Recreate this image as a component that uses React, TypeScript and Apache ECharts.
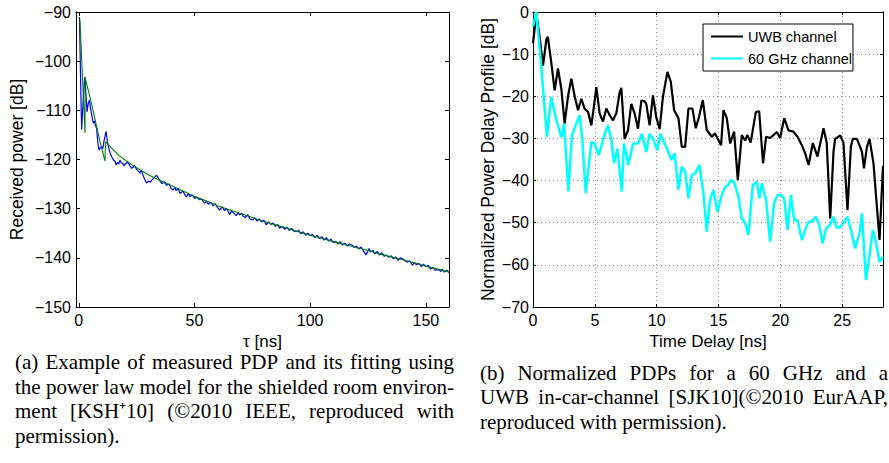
import React, { useEffect, useRef } from "react";
import * as echarts from "echarts";

// ---------- Left panel (a) data ----------
const tauTicks = [0, 50, 100, 150];

// measured PDP [tau ns, dB]
const measuredPdp: [number, number][] = [
  [0.3, -91.0], [0.7, -101.5], [1.0, -109.0], [1.25, -113.9], [1.6, -110.5], [2.0, -107.0],
  [2.4, -104.2], [2.7, -103.2], [3.1, -106.8], [3.6, -110.3], [4.1, -108.6], [4.6, -107.9],
  [5.1, -109.6], [5.6, -111.0], [6.3, -112.6], [6.8, -112.2], [7.3, -113.2], [7.7, -113.6],
  [8.2, -116.4], [8.75, -118.1], [9.3, -117.6], [9.9, -117.4], [10.4, -117.8], [11.0, -116.0],
  [11.8, -114.3], [12.3, -116.2], [12.8, -117.4], [13.5, -118.6], [14.2, -119.4], [15.0, -120.1],
  [15.7, -120.4], [16.1, -121.1], [16.8, -120.6], [17.3, -120.9], [17.8, -120.1], [18.4, -120.7],
  [19.0, -120.8], [19.6, -121.3], [20.0, -120.9], [20.7, -120.8], [21.0, -120.4], [22.0, -121.2],
  [22.8, -121.8], [23.5, -121.6], [24.0, -121.2], [25.0, -122.0], [26.0, -122.5], [26.4, -122.8],
  [27.0, -122.2], [28.0, -123.5], [29.3, -124.8], [30.0, -124.4], [31.0, -124.6], [31.5, -124.2],
  [32.2, -123.9], [33.0, -123.5], [33.6, -123.2], [34.2, -123.6], [35.0, -124.3], [36.0, -124.9],
  [37.0, -124.6], [37.9, -125.2], [39.0, -125.0], [40.0, -125.9], [40.8, -126.2], [41.5, -125.7],
  [42.0, -126.3], [43.0, -125.9], [43.7, -126.9], [44.5, -126.6], [45.0, -126.4], [46.0, -127.3],
  [46.6, -127.6], [47.3, -126.9], [48.0, -127.5], [49.0, -127.2], [50.1, -127.9], [51.0, -127.7],
  [52.3, -128.2], [53.0, -128.0], [54.4, -128.9], [55.0, -128.5], [56.0, -129.1], [57.0, -128.7],
  [58.0, -129.4], [59.0, -129.0], [60.0, -129.8], [60.9, -130.3], [62.0, -129.6], [63.0, -130.4],
  [64.0, -130.0], [65.2, -131.2], [66.0, -130.5], [67.0, -130.9], [68.0, -131.4], [69.0, -130.8],
  [69.5, -131.3], [70.5, -131.0], [71.0, -131.5], [72.0, -131.8], [73.0, -131.2], [74.0, -132.1],
  [75.3, -132.3], [76.0, -131.8], [77.0, -132.5], [78.0, -132.1], [79.0, -132.7], [80.0, -132.3],
  [81.0, -133.3], [82.0, -132.7], [83.0, -133.2], [84.0, -132.9], [85.0, -133.6], [86.0, -133.2],
  [86.8, -134.0], [88.0, -133.6], [89.0, -134.2], [90.0, -133.8], [91.0, -134.4], [92.0, -134.0],
  [93.0, -134.6], [94.0, -134.7], [95.0, -134.4], [96.0, -135.1], [97.0, -134.7], [98.0, -135.4],
  [99.0, -135.0], [100.0, -135.5], [101.0, -135.2], [102.0, -135.9], [103.0, -135.4], [104.0, -136.1],
  [105.0, -135.7], [106.0, -136.4], [107.0, -135.9], [108.0, -136.6], [109.0, -136.2], [110.0, -136.9],
  [111.2, -136.7], [112.0, -137.2], [113.0, -136.7], [114.0, -137.4], [115.0, -137.0], [116.0, -137.6],
  [117.0, -137.2], [118.4, -137.5], [119.0, -137.9], [120.0, -137.6], [121.0, -138.2], [122.0, -137.8],
  [123.0, -138.6], [124.1, -139.4], [125.5, -138.1], [126.0, -138.8], [127.0, -138.5], [128.0, -139.2],
  [129.0, -138.7], [130.0, -139.4], [131.0, -139.0], [132.0, -139.7], [132.8, -139.4], [134.0, -139.9],
  [135.0, -139.6], [136.0, -140.2], [137.0, -139.8], [138.0, -140.5], [139.0, -140.0], [139.9, -140.2],
  [141.0, -140.6], [142.0, -140.9], [143.0, -140.6], [144.2, -141.5], [145.0, -141.0], [146.0, -141.4],
  [147.0, -141.1], [148.0, -141.8], [149.0, -141.3], [150.0, -141.8], [151.0, -141.5], [152.0, -142.3],
  [153.0, -141.9], [154.0, -142.5], [155.7, -142.4], [156.5, -142.8], [157.0, -142.3], [158.0, -142.9],
  [159.0, -142.5], [160.0, -143.0]
];

// power law fit [tau ns, dB]
const powerLawFit: [number, number][] = [
  [0.5, -91.6], [2.7, -114.6], [2.75, -103.4], [5.0, -107.6], [7.0, -111.8], [9.0, -116.0],
  [11.3, -120.3], [11.6, -116.4], [13.0, -117.1], [15.0, -118.1], [17.5, -119.2], [20.0, -120.1],
  [23.0, -121.1], [26.5, -122.1], [30.0, -123.1], [35.0, -124.2], [40.0, -125.3], [45.0, -126.4],
  [50.0, -127.5], [55.0, -128.4], [60.0, -129.4], [65.0, -130.2], [70.0, -131.0], [75.0, -131.8],
  [80.0, -132.6], [85.0, -133.3], [90.0, -134.0], [95.0, -134.7], [100.0, -135.4], [105.0, -136.0],
  [110.0, -136.7], [115.0, -137.3], [120.0, -137.9], [125.0, -138.5], [130.0, -139.2], [135.0, -139.8],
  [140.0, -140.4], [145.0, -141.0], [150.0, -141.7], [155.0, -142.3], [160.0, -142.9]
];

// ---------- Right panel (b) data ----------
const delayTicks = [0, 5, 10, 15, 20, 25];

const uwbChannel: [number, number][] = [
  [0.0, -7.4], [0.27, -0.3], [0.54, -6.0], [0.81, -12.7], [1.08, -6.5], [1.2, -5.9], [1.48, -12.0],
  [1.75, -18.6], [2.02, -13.4], [2.29, -18.2], [2.56, -26.5], [2.83, -20.0], [3.1, -15.8], [3.37, -20.0],
  [3.64, -23.3], [3.91, -20.6], [4.18, -23.0], [4.45, -23.7], [4.72, -26.9], [4.99, -21.0], [5.12, -17.8],
  [5.39, -24.1], [5.66, -26.0], [5.93, -22.9], [6.2, -24.5], [6.47, -25.7], [6.74, -24.0], [7.01, -19.0],
  [7.14, -18.0], [7.41, -30.1], [7.68, -28.1], [7.95, -21.8], [8.22, -24.1], [8.49, -27.7], [8.76, -21.0],
  [9.03, -21.2], [9.16, -21.8], [9.43, -26.9], [9.7, -19.8], [9.97, -25.0], [10.24, -27.8], [10.51, -20.0],
  [10.87, -14.2], [11.14, -16.5], [11.41, -23.3], [11.76, -25.2], [12.03, -32.0], [12.3, -32.0],
  [12.57, -22.9], [12.89, -22.9], [13.16, -27.6], [13.43, -24.8], [13.73, -20.9], [14.05, -28.0],
  [14.46, -29.6], [14.72, -28.8], [14.99, -30.4], [15.21, -31.6], [15.4, -23.3], [15.67, -25.2],
  [15.94, -31.2], [16.26, -28.4], [16.56, -39.9], [16.88, -29.2], [17.15, -30.5], [17.34, -29.2],
  [17.6, -31.0], [18.02, -23.7], [18.29, -23.6], [18.6, -35.9], [18.85, -29.6], [19.17, -29.9],
  [19.44, -29.2], [19.72, -28.5], [19.98, -29.9], [20.31, -25.2], [20.66, -28.1], [21.06, -28.4],
  [21.39, -29.6], [21.74, -31.6], [22.0, -33.5], [22.28, -36.3], [22.63, -31.1], [23.0, -34.3],
  [23.49, -27.6], [23.75, -31.0], [24.03, -49.0], [24.3, -33.0], [24.43, -30.1], [24.84, -29.3],
  [25.1, -31.0], [25.43, -47.0], [25.7, -32.0], [25.86, -30.1], [26.19, -30.1], [26.45, -32.0],
  [26.6, -33.2], [26.76, -37.1], [27.0, -32.0], [27.21, -30.1], [27.53, -35.9], [28.02, -54.1],
  [28.3, -36.5]
];

const ghz60Channel: [number, number][] = [
  [0.0, -3.5], [0.27, 0.0], [0.67, -13.0], [1.13, -29.7], [1.48, -20.2], [1.89, -25.7], [2.29, -29.7],
  [2.51, -26.5], [2.86, -42.6], [3.15, -29.3], [3.5, -26.5], [3.77, -24.5], [3.99, -30.5], [4.26, -43.0],
  [4.72, -30.9], [4.99, -31.2], [5.31, -34.0], [5.8, -28.9], [6.06, -26.9], [6.33, -30.1], [6.55, -35.9],
  [6.82, -32.4], [7.18, -42.6], [7.36, -31.2], [7.71, -36.3], [8.09, -31.2], [8.49, -31.2], [8.81, -28.9],
  [9.16, -33.2], [9.43, -28.9], [9.78, -30.5], [10.05, -32.8], [10.3, -28.9], [10.6, -31.0], [10.85, -32.5],
  [11.2, -35.1], [11.45, -33.5], [11.76, -42.2], [12.03, -36.7], [12.3, -37.9], [12.57, -44.2],
  [12.84, -38.7], [13.11, -38.3], [13.46, -36.3], [13.78, -43.0], [14.05, -52.1], [14.32, -44.6],
  [14.59, -42.2], [14.91, -47.4], [15.27, -43.4], [15.53, -41.5], [15.75, -41.1], [16.02, -39.9],
  [16.26, -40.3], [16.61, -43.8], [16.88, -49.0], [17.15, -50.1], [17.42, -52.9], [17.77, -41.1],
  [18.1, -40.3], [18.31, -44.2], [18.5, -40.7], [18.85, -44.6], [19.17, -54.5], [19.5, -45.4],
  [19.77, -43.4], [20.04, -43.4], [20.31, -44.2], [20.58, -51.7], [20.85, -43.4], [21.12, -49.4],
  [21.39, -49.4], [21.74, -54.1], [22.01, -51.7], [22.28, -49.8], [22.55, -49.8], [22.87, -48.6],
  [23.14, -50.5], [23.41, -54.9], [23.71, -51.3], [24.03, -50.5], [24.3, -48.6], [24.57, -51.3],
  [24.84, -51.0], [25.16, -49.8], [25.43, -48.6], [25.73, -52.1], [26.05, -56.1], [26.4, -52.5],
  [26.6, -47.8], [26.92, -63.6], [27.21, -57.7], [27.48, -51.7], [27.75, -54.9], [28.02, -59.3],
  [28.29, -58.1]
];

const captionA = [
  "(a) Example of measured PDP and its fitting using",
  "the power law model for the shielded room environ-",
  "ment [KSH\u207A10] (\u00A92010 IEEE, reproduced with",
  "permission)."
];
const captionB = [
  "(b) Normalized PDPs for a 60 GHz and a",
  "UWB in-car-channel [SJK10](\u00A92010 EurAAP,",
  "reproduced with permission)."
];

const SANS = '"Liberation Sans", Arial, Helvetica, sans-serif';
const SERIF = '"Liberation Serif", "Times New Roman", serif';
const CAPTION_FONT_SIZE = 21;

const fmtMinus = (v: number) => (v < 0 ? "\u2212" + Math.abs(v) : String(v));

function captionElements(lines: string[], x0: number, width: number, yCenters: number[], justified: number) {
  const canvas = document.createElement("canvas");
  const ctx = canvas.getContext("2d") as CanvasRenderingContext2D;
  const font = `${CAPTION_FONT_SIZE}px ${SERIF}`;
  ctx.font = font;
  const space = ctx.measureText(" ").width;
  const els: any[] = [];
  lines.forEach((line, i) => {
    const words = line.split(" ");
    const widths = words.map((w) => ctx.measureText(w).width);
    const total = widths.reduce((a, b) => a + b, 0);
    const gap = i < justified && words.length > 1 ? (width - total) / (words.length - 1) : space;
    let x = x0;
    words.forEach((w, j) => {
      els.push({
        type: "text",
        x,
        y: yCenters[i],
        silent: true,
        style: { text: w, font, lineHeight: 19, fill: "#000", textAlign: "left", textVerticalAlign: "middle" }
      });
      x += widths[j] + gap;
    });
  });
  return els;
}

export default function App() {
  const ref = useRef<HTMLDivElement>(null);
  useEffect(() => {
    if (!ref.current) return;
    const chart = echarts.init(ref.current, null, { renderer: "svg" });

    const tickInside = { show: true, inside: true, length: 4, lineStyle: { color: "#000", width: 1 } };
    const axisLine = { show: true, onZero: false, lineStyle: { color: "#000", width: 1 } };
    const labelStyle = { color: "#000", fontSize: 16, fontFamily: SANS };
    const nameStyle = { color: "#000", fontSize: 17.5, lineHeight: 16, fontFamily: SANS };
    const xNameStyle = { color: "#000", fontSize: 17, lineHeight: 16, fontFamily: SANS };
    const dotted = { show: true, lineStyle: { color: "#8a8a8a", width: 1, type: [1, 3] as any } };

    const option: any = {
      animation: false,
      backgroundColor: "#fff",
      grid: [
        { left: 76, top: 12, width: 373, height: 295 },
        { left: 533, top: 12, width: 350, height: 295 }
      ],
      xAxis: [
        {
          gridIndex: 0, type: "value", min: -1.2, max: 160, position: "bottom",
          name: "\u03C4 [ns]", nameLocation: "middle", nameGap: 23, nameTextStyle: xNameStyle,
          axisLine, axisTick: { ...tickInside, customValues: tauTicks },
          axisLabel: { ...labelStyle, margin: 5, customValues: tauTicks, formatter: fmtMinus },
          splitLine: { show: false }
        },
        {
          gridIndex: 0, type: "value", min: -1.2, max: 160, position: "top",
          axisLine, axisTick: { ...tickInside, customValues: tauTicks },
          axisLabel: { show: false }, splitLine: { show: false }
        },
        {
          gridIndex: 1, type: "value", min: 0, max: 28.3, interval: 5, position: "bottom",
          name: "Time Delay [ns]", nameLocation: "middle", nameGap: 23, nameTextStyle: xNameStyle,
          axisLine, axisTick: { ...tickInside, length: 3, customValues: delayTicks },
          axisLabel: { ...labelStyle, margin: 5, customValues: delayTicks, formatter: fmtMinus },
          splitLine: dotted
        },
        {
          gridIndex: 1, type: "value", min: 0, max: 28.3, interval: 5, position: "top",
          axisLine, axisTick: { ...tickInside, length: 3, customValues: delayTicks },
          axisLabel: { show: false }, splitLine: { show: false }
        }
      ],
      yAxis: [
        {
          gridIndex: 0, type: "value", min: -150, max: -90, interval: 10, position: "left",
          name: "Received power [dB]", nameLocation: "middle", nameGap: 51, nameTextStyle: nameStyle,
          axisLine, axisTick: tickInside,
          axisLabel: { ...labelStyle, margin: 5, formatter: fmtMinus },
          splitLine: { show: false }
        },
        {
          gridIndex: 0, type: "value", min: -150, max: -90, interval: 10, position: "right",
          axisLine, axisTick: tickInside, axisLabel: { show: false }, splitLine: { show: false }
        },
        {
          gridIndex: 1, type: "value", min: -70, max: 0, interval: 10, position: "left",
          name: "Normalized Power Delay Profile [dB]", nameLocation: "middle", nameGap: 37, nameTextStyle: nameStyle,
          axisLine, axisTick: { ...tickInside, length: 3 },
          axisLabel: { ...labelStyle, margin: 4, formatter: fmtMinus },
          splitLine: dotted
        },
        {
          gridIndex: 1, type: "value", min: -70, max: 0, interval: 10, position: "right",
          axisLine, axisTick: { ...tickInside, length: 3 }, axisLabel: { show: false }, splitLine: { show: false }
        }
      ],
      legend: {
        data: ["UWB channel", "60 GHz channel"],
        orient: "vertical",
        left: 703,
        top: 24,
        padding: [5, 1, 5, 7],
        itemGap: 7,
        itemWidth: 32,
        itemHeight: 14,
        selectedMode: false,
        itemStyle: { opacity: 0 },
        backgroundColor: "#fff",
        borderColor: "#000",
        borderWidth: 1,
        borderRadius: 0,
        textStyle: { color: "#000", fontSize: 14.5, fontFamily: SANS }
      },
      series: [
        {
          name: "Measured PDP", type: "line", xAxisIndex: 0, yAxisIndex: 0, data: measuredPdp,
          symbol: "none", showSymbol: false, lineStyle: { color: "#0000ff", width: 1.2 }, itemStyle: { color: "#0000ff" }
        },
        {
          name: "Power law fit", type: "line", xAxisIndex: 0, yAxisIndex: 0, data: powerLawFit,
          symbol: "none", showSymbol: false, lineStyle: { color: "#008000", width: 1.1 }, itemStyle: { color: "#008000" }
        },
        {
          name: "UWB channel", type: "line", xAxisIndex: 2, yAxisIndex: 2, data: uwbChannel,
          symbol: "none", showSymbol: false, lineStyle: { color: "#000000", width: 2.2 }, itemStyle: { color: "#000000" }
        },
        {
          name: "60 GHz channel", type: "line", xAxisIndex: 2, yAxisIndex: 2, data: ghz60Channel,
          symbol: "none", showSymbol: false, lineStyle: { color: "#00ffff", width: 2.5 }, itemStyle: { color: "#00ffff" }
        }
      ],
      graphic: [
        ...captionElements(captionA, 15, 439, [362, 386.5, 411, 435.5], 3),
        ...captionElements(captionB, 480, 408, [372.5, 397, 421.5], 2)
      ]
    };

    chart.setOption(option);
    return () => chart.dispose();
  }, []);

  return (
    <div
      ref={ref}
      style={{ position: "absolute", left: 0, top: 0, width: 889, height: 463, background: "#fff" }}
    />
  );
}
